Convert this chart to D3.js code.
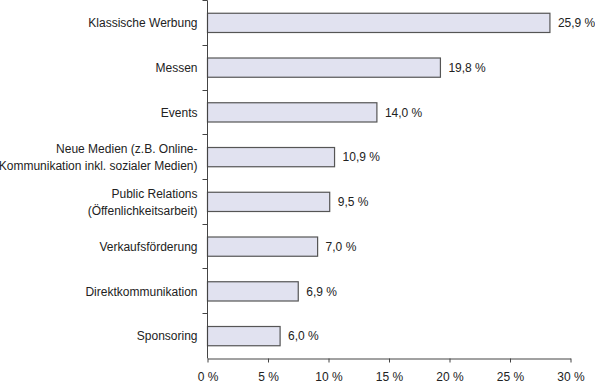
<!DOCTYPE html>
<html>
<head>
<meta charset="utf-8">
<script src="https://cdn.jsdelivr.net/npm/d3@7"></script>
<style>
  body { margin: 0; background: #fff; }
  svg { display: block; font-family: "Liberation Sans", Arial, sans-serif; }
</style>
</head>
<body>
<div id="chart"></div>
<script>
// Kategorien (von oben nach unten)
const categories = [
  ["Klassische Werbung"],
  ["Messen"],
  ["Events"],
  ["Neue Medien (z.B. Online-", "Kommunikation inkl. sozialer Medien)"],
  ["Public Relations", "(Öffenlichkeitsarbeit)"],
  ["Verkaufsförderung"],
  ["Direktkommunikation"],
  ["Sponsoring"]
];
// Balkenlänge (in %)
const barValues = [28.3, 19.25, 14.0, 10.5, 10.1, 9.1, 7.5, 6.0];
// Beschriftung an den Balken
const valueLabels = ["25,9 %", "19,8 %", "14,0 %", "10,9 %", "9,5 %", "7,0 %", "6,9 %", "6,0 %"];
const xTicks = [0, 5, 10, 15, 20, 25, 30];

const width = 595, height = 384;
const margin = { top: 0.5, right: 24, bottom: 25.5, left: 207.5 };
const innerW = width - margin.left - margin.right;
const innerH = height - margin.top - margin.bottom;

const svg = d3.select("#chart").append("svg")
  .attr("width", width)
  .attr("height", height);

const g = svg.append("g")
  .attr("transform", `translate(${margin.left},${margin.top})`);

const x = d3.scaleLinear().domain([0, 30]).range([0, 363]);
const y = d3.scaleBand()
  .domain(d3.range(categories.length))
  .range([0, innerH])
  .paddingInner(0.57)
  .paddingOuter(0.285);

const axisColor = "#444";
const textColor = "#222";

// Balken
g.selectAll("rect.bar")
  .data(barValues)
  .enter()
  .append("rect")
  .attr("class", "bar")
  .attr("x", 0)
  .attr("y", (d, i) => y(i))
  .attr("width", d => x(d))
  .attr("height", y.bandwidth())
  .attr("fill", "#e1e2f0")
  .attr("stroke", "#555")
  .attr("stroke-width", 1.2);

// Werte
g.selectAll("text.val")
  .data(barValues)
  .enter()
  .append("text")
  .attr("class", "val")
  .attr("x", d => x(d) + 8)
  .attr("y", (d, i) => y(i) + y.bandwidth() / 2)
  .attr("dy", "0.35em")
  .attr("font-size", 12)
  .attr("fill", textColor)
  .text((d, i) => valueLabels[i]);

// y-Achse (Linie + Trennstriche zwischen den Kategorien)
g.append("line")
  .attr("x1", 0).attr("x2", 0)
  .attr("y1", 0).attr("y2", innerH)
  .attr("stroke", axisColor);

const step = y.step();
g.selectAll("line.ytick")
  .data(d3.range(categories.length))
  .enter()
  .append("line")
  .attr("class", "ytick")
  .attr("x1", -5).attr("x2", 0)
  .attr("y1", i => Math.round(y(i) - step * y.paddingInner() / 2))
  .attr("y2", i => Math.round(y(i) - step * y.paddingInner() / 2))
  .attr("stroke", axisColor);

// Kategorie-Beschriftungen
const catLabels = g.selectAll("text.cat")
  .data(categories)
  .enter()
  .append("text")
  .attr("class", "cat")
  .attr("text-anchor", "end")
  .attr("font-size", 12)
  .attr("fill", textColor)
  .attr("transform", (d, i) => `translate(-10,${y(i) + y.bandwidth() / 2})`);

catLabels.each(function (lines) {
  const t = d3.select(this);
  const lh = 17;
  const start = -(lines.length - 1) * lh / 2;
  lines.forEach((l, k) => {
    t.append("tspan")
      .attr("x", 0)
      .attr("y", start + k * lh)
      .attr("dy", "0.35em")
      .text(l);
  });
});

// x-Achse
const xAxis = d3.axisBottom(x)
  .tickValues(xTicks)
  .tickSize(4)
  .tickSizeOuter(0)
  .tickPadding(10)
  .tickFormat(d => d + " %");

const xg = g.append("g")
  .attr("transform", `translate(0,${innerH})`)
  .call(xAxis);

xg.select(".domain").attr("stroke", axisColor);
xg.selectAll(".tick line").attr("stroke", axisColor);
xg.selectAll(".tick text")
  .attr("font-size", 12)
  .attr("font-family", "Liberation Sans, Arial, sans-serif")
  .attr("fill", textColor);
</script>
</body>
</html>
